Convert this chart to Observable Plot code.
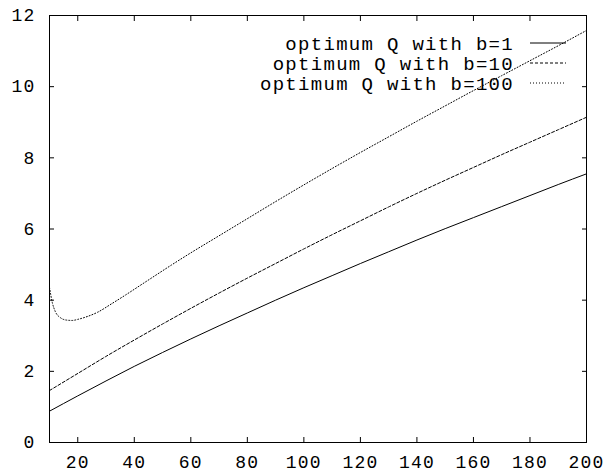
<!DOCTYPE html>
<html>
<head>
<meta charset="utf-8">
<script src="https://cdn.jsdelivr.net/npm/d3@7"></script>
<script src="https://cdn.jsdelivr.net/npm/@observablehq/plot@0.6"></script>
<style>
  html, body { margin: 0; padding: 0; background: #fff; }
  #chart svg { display: block; }
</style>
</head>
<body>
<div id="chart"></div>
<script>
// Series: optimum Q with b=1 (solid)
const b1X = [10, 20, 30, 40, 50, 60, 70, 80, 90, 100, 110, 120, 130, 140, 150, 160, 170, 180, 190, 200];
const b1Y = [0.88, 1.31, 1.73, 2.14, 2.53, 2.91, 3.28, 3.64, 4.00, 4.35, 4.69, 5.03, 5.36, 5.69, 6.01, 6.32, 6.63, 6.94, 7.25, 7.55];
// Series: optimum Q with b=10 (dashed)
const b10X = [10, 20, 30, 40, 50, 60, 70, 80, 90, 100, 110, 120, 130, 140, 150, 160, 170, 180, 190, 200];
const b10Y = [1.46, 1.94, 2.42, 2.88, 3.33, 3.77, 4.20, 4.62, 5.03, 5.44, 5.84, 6.23, 6.62, 7.00, 7.37, 7.73, 8.09, 8.44, 8.79, 9.14];
// Series: optimum Q with b=100 (dotted)
const b100X = [10, 11, 12, 14, 16, 18, 20, 23, 27, 32, 37, 42, 47, 53, 60, 70, 80, 90, 100, 110, 120, 130, 140, 150, 160, 170, 180, 190, 200];
const b100Y = [4.36, 3.93, 3.69, 3.50, 3.44, 3.43, 3.46, 3.53, 3.66, 3.90, 4.15, 4.41, 4.67, 4.98, 5.33, 5.81, 6.29, 6.77, 7.24, 7.70, 8.15, 8.59, 9.03, 9.46, 9.89, 10.31, 10.73, 11.15, 11.58];

const seriesNames = ["optimum Q with b=1", "optimum Q with b=10", "optimum Q with b=100"];
const xTicks = [20, 40, 60, 80, 100, 120, 140, 160, 180, 200];
const yTicks = [0, 2, 4, 6, 8, 10, 12];

const dashes = [null, "3,2", "1,2"];
const toRows = (xs, ys) => xs.map((x, i) => ({x, y: ys[i]}));
const rows = [toRows(b1X, b1Y), toRows(b10X, b10Y), toRows(b100X, b100Y)];

const font = "Liberation Mono, Courier New, monospace";

const plot = Plot.plot({
  width: 607,
  height: 474,
  marginLeft: 49,
  marginRight: 21,
  marginTop: 15,
  marginBottom: 32,
  style: {fontFamily: font, fontSize: "18px", color: "#000", background: "#fff", letterSpacing: "1.2px"},
  x: {domain: [10, 200]},
  y: {domain: [0, 12]},
  marks: [
    Plot.axisX({ticks: xTicks, tickSize: -5, tickPadding: 18, label: null, fontSize: 18}),
    Plot.axisX({ticks: xTicks, anchor: "top", tickSize: -5, fill: "none", label: null}),
    Plot.axisY({ticks: yTicks, tickSize: -5, tickPadding: 19, label: null, fontSize: 18}),
    Plot.axisY({ticks: yTicks, anchor: "right", tickSize: -5, fill: "none", label: null}),
    ...rows.map((r, i) => Plot.line(r, {x: "x", y: "y", stroke: "#000", strokeWidth: 1, strokeDasharray: dashes[i], curve: "monotone-x"})),
    Plot.frame({stroke: "#000", strokeWidth: 1})
  ]
});

document.getElementById("chart").appendChild(plot);

// Legend (top right, gnuplot style)
const svg = d3.select(plot);
const lg = svg.append("g")
  .attr("font-family", font)
  .attr("font-size", 19)
  .style("letter-spacing", "1.3px");
seriesNames.forEach((name, i) => {
  const cy = 43 + i * 20;
  lg.append("text")
    .attr("x", 514).attr("y", cy).attr("dy", "0.35em")
    .attr("text-anchor", "end").attr("fill", "#000")
    .text(name);
  lg.append("line")
    .attr("x1", 530).attr("x2", 566).attr("y1", cy).attr("y2", cy)
    .attr("stroke", "#000").attr("stroke-width", 1)
    .attr("stroke-dasharray", dashes[i]);
});
</script>
</body>
</html>
